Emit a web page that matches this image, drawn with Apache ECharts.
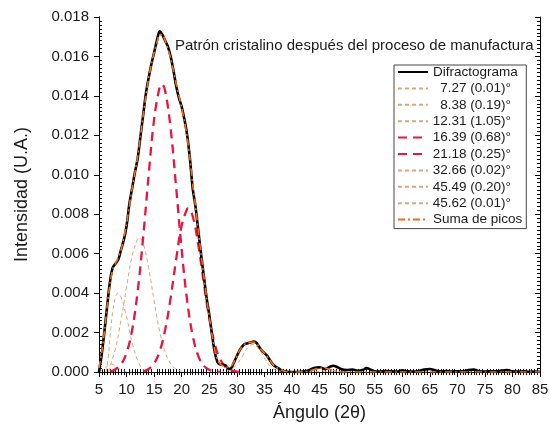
<!DOCTYPE html>
<html>
<head>
<meta charset="utf-8">
<script src="https://cdn.jsdelivr.net/npm/echarts@6/dist/echarts.min.js"></script>
<style>html,body{margin:0;padding:0;background:#fff}#c{width:550px;height:433px}</style>
</head>
<body>
<div id="c"></div>
<script>
// ---- Data ----
var angle = [5,5.5,6,6.5,7,7.5,8,8.5,9,9.5,10,10.5,11,11.5,12,12.5,13,13.5,14,14.5,15,15.5,16,16.5,17,17.5,18,18.5,19,19.5,20,20.5,21,21.5,22,22.5,23,23.5,24,24.5,25,25.5,26,26.5,27,27.5,28,28.5,29,29.5,30,30.5,31,31.5,32,32.5,33,33.5,34,34.5,35,35.5,36,36.5,37,37.5,38,38.5,39,39.5,40,41,42,43,44,45,46,47,47.5,48,49,50,51,52,53,53.5,54,55,56,57,58,59,60,61,62,63,64,65,66,67,68,69,70,71,72,73,74,75,76,77,78,79,80,81,82,83,84,85];
var difractograma = [0,0.0009,0.0021,0.0034,0.0046,0.0053,0.0055,0.0057,0.0062,0.0067,0.0074,0.0085,0.0093,0.0101,0.0108,0.0119,0.0130,0.0141,0.0149,0.0156,0.0162,0.0168,0.01728,0.0171,0.0168,0.0165,0.0160,0.0153,0.0145,0.0139,0.01345,0.0128,0.0120,0.0108,0.0093,0.0084,0.0072,0.0060,0.0049,0.0038,0.0029,0.0019,0.0010,0.0005,0.00038,0.00037,0.00033,0.00015,0.0002,0.0005,0.0008,0.0011,0.0013,0.00142,0.00146,0.0015,0.00154,0.0015,0.0013,0.0011,0.00096,0.00082,0.0006,0.0004,0.00028,0.0002,0.0001,0.00005,0.00002,0,0,0,0.00002,0.00008,0.0002,0.00024,0.00015,0.00028,0.00032,0.00028,0.00014,0.0001,0.00013,0.00006,0.00012,0.0002,0.00016,0.00004,0.00002,0.00005,0.00003,0.00002,0.00008,0.00003,0.00002,0.00005,0.00012,0.00015,0.00008,0.00003,0.00005,0.00002,0.00004,0.00003,0.0001,0.00012,0.00004,0.00002,0.00004,0.00003,0.00007,0.0001,0.00003,0.00002,0.00003,0.00001,0.00002,0];

var sumaAngle = [5,5.5,6,6.5,7,7.5,8,8.5,9,9.5,10,10.5,11,11.5,12,12.5,13,13.5,14,14.5,15,15.5,16,16.5,17,17.5,18,18.5,19,19.5,20,20.5,21,21.5,22,22.5,23,23.5,24,24.5,25,25.5,26,26.5,27,27.5,28,28.5,29,29.5,30,30.5,31,31.5,32,32.5,33,33.5,34,34.5,35,35.5,36,36.5,37,37.5,38,38.5,39,40,41,42,43,44,45,46,47,48,49,50,55,60,65,70,75,80,85];
var suma = [0.0002,0.0010,0.0021,0.0034,0.0045,0.0052,0.0055,0.0058,0.0062,0.0068,0.0075,0.0084,0.0093,0.0101,0.0109,0.0119,0.0130,0.0140,0.0149,0.0156,0.0162,0.0167,0.0171,0.0171,0.0168,0.0164,0.0159,0.0153,0.0146,0.0140,0.0134,0.0127,0.0119,0.0108,0.0095,0.0084,0.0072,0.0060,0.0049,0.0038,0.0028,0.0019,0.0011,0.0006,0.0004,0.00032,0.00026,0.00025,0.0003,0.00052,0.0008,0.0011,0.0013,0.00142,0.00147,0.0015,0.00152,0.00148,0.0013,0.0011,0.00095,0.0008,0.0006,0.0004,0.00028,0.00018,0.0001,0.00005,0.00002,0,0,0.00001,0.00005,0.00012,0.00019,0.00019,0.00012,0.00005,0.00001,0,0,0,0,0,0,0,0];

var pico727 = [[5,0.00003],[6,0.00018],[7,0.00039],[7.27,0.0004],[8,0.00032],[9,0.00011],[10,0.00002],[11,0]];
var pico838 = [[6.3,0],[6.7,0.0008],[7,0.0018],[7.5,0.0031],[8,0.0038],[8.4,0.0040],[9,0.0038],[10,0.0028],[11,0.0015],[12,0.0006],[13,0.00012],[14,0]];
var pico1231 = [[6.7,0],[7,0.0003],[8,0.0012],[9,0.00264],[10,0.0043],[11,0.00587],[12,0.00675],[12.3,0.0068],[13,0.00652],[14,0.00529],[15,0.00361],[16,0.00207],[17,0.0010],[18,0.00041],[19,0.00014],[20,0.00004],[21,0]];
var pico1639 = [[7,0.00002],[8,0.00014],[9,0.00039],[10,0.00097],[11,0.00212],[12,0.00406],[13,0.0068],[14,0.00997],[15,0.01282],[16,0.01445],[16.4,0.0146],[17,0.01425],[18,0.01233],[19,0.00934],[20,0.0062],[21,0.0036],[22,0.00184],[23,0.00082],[24,0.00032],[25,0.00011],[26,0.00003],[27,0]];
var pico2118 = [[13,0.00003],[14,0.00015],[15,0.00043],[16,0.00104],[17,0.00214],[18,0.00377],[19,0.00572],[20,0.00743],[21,0.00828],[21.2,0.0083],[22,0.0079],[23,0.00647],[24,0.00454],[25,0.00273],[26,0.00141],[27,0.00063],[28,0.00024],[29,0.00008],[30,0.00002],[31,0]];
var pico3266 = [[27,0],[28,0.00003],[29,0.00013],[30,0.00038],[31,0.0008],[32,0.00124],[32.9,0.0014],[34,0.00116],[35,0.00071],[36,0.00032],[37,0.0001],[38,0.00002],[39,0]];
var pico4549 = [[41,0],[42,0.00001],[43,0.00005],[44,0.00011],[45,0.00017],[45.5,0.00018],[46,0.00017],[47,0.00011],[48,0.00005],[49,0.00001],[50,0]];
var pico4562 = [[43,0],[44,0.00001],[45,0.00004],[45.6,0.00005],[46.2,0.00004],[47,0.00001],[48,0]];

var xTicks = {min: 5, max: 85, interval: 5};
var yTicks = {min: 0, max: 0.018, interval: 0.002};
var names = ['Difractograma','7.27 (0.01)°','8.38 (0.19)°','12.31 (1.05)°','16.39 (0.68)°','21.18 (0.25)°','32.66 (0.02)°','45.49 (0.20)°','45.62 (0.01)°','Suma de picos'];
var titleText = 'Patrón cristalino después del proceso de manufactura';

// ---- Chart ----
var FONT = "'Liberation Sans', Arial, sans-serif";
function zip(xs, ys){ return xs.map(function(x,i){ return [x, ys[i]]; }); }

var chart = echarts.init(document.getElementById('c'), null, {renderer:'canvas'});
var axisLine = {show:true, lineStyle:{color:'#000', width:1}};
function xAx(pos, opts){
  return Object.assign({type:'value', position:pos, min:xTicks.min, max:xTicks.max, interval:xTicks.interval,
    axisLine:axisLine, splitLine:{show:false}, axisLabel:{show:false}}, opts);
}
function yAx(pos, opts){
  return Object.assign({type:'value', position:pos, min:yTicks.min, max:yTicks.max, interval:yTicks.interval,
    axisLine:axisLine, splitLine:{show:false}, axisLabel:{show:false}}, opts);
}
var thin = '#dca57c';
var red = '#e8163e';
function comp(name, data, color, width, dash){
  return {name:name, type:'line', data:data, smooth:0.4, showSymbol:false, symbol:'none', z:2,
    lineStyle:{color:color, width:width, type:dash}, itemStyle:{color:color}};
}
var txt = {fontFamily:FONT, fontSize:13.5, color:'#1a1a1a', lineHeight:14};

chart.setOption({
  animation:false,
  backgroundColor:'#fff',
  grid:{left:99, right:10, top:17, bottom:61, outerBoundsMode:'none'},
  title:{text:titleText, left:170, top:33, textStyle:{fontFamily:FONT, fontSize:15, fontWeight:'normal', color:'#1a1a1a'}},
  xAxis:[
    xAx('bottom',{name:'Ángulo (2θ)', nameLocation:'middle', nameGap:32,
      nameTextStyle:{fontFamily:FONT, fontSize:18, color:'#1a1a1a'},
      axisTick:{show:true, inside:false, length:5, lineStyle:{color:'#000'}},
      axisLabel:{show:true, margin:10, fontFamily:FONT, fontSize:15, color:'#1a1a1a'}}),
    xAx('bottom',{axisTick:{show:false, inside:true}, minorTick:{show:true, splitNumber:10, length:3, lineStyle:{color:'#000'}}}),
    xAx('top',{axisTick:{show:true, inside:true, length:5, lineStyle:{color:'#000'}}, minorTick:{show:true, splitNumber:10, length:3, lineStyle:{color:'#000'}}})
  ],
  yAxis:[
    yAx('left',{name:'Intensidad (U.A.)', nameLocation:'middle', nameGap:68, nameRotate:90,
      nameTextStyle:{fontFamily:FONT, fontSize:18, color:'#1a1a1a'},
      axisTick:{show:true, inside:false, length:5, lineStyle:{color:'#000'}},
      axisLabel:{show:true, margin:10, fontFamily:FONT, fontSize:15, color:'#1a1a1a', formatter:function(v){return v.toFixed(3);}}}),
    yAx('left',{axisTick:{show:false, inside:true}, minorTick:{show:true, splitNumber:10, length:3, lineStyle:{color:'#000'}}}),
    yAx('right',{axisTick:{show:true, inside:true, length:5, lineStyle:{color:'#000'}}, minorTick:{show:true, splitNumber:10, length:3, lineStyle:{color:'#000'}}})
  ],
  legend:{
    data:names, orient:'vertical', left:394, top:65, padding:[0,4,2,3], itemGap:2.4,
    itemWidth:30, itemHeight:14, backgroundColor:'#fff', borderColor:'#444', borderWidth:1, borderRadius:0,
    itemStyle:{opacity:0, borderWidth:0},
    textStyle:Object.assign({}, txt, {rich:{r:Object.assign({width:78, align:'right'}, txt), l:Object.assign({}, txt)}}),
    formatter:function(n){ return (n==='Difractograma'||n==='Suma de picos') ? '{l|'+n+'}' : '{r|'+n+'}'; }
  },
  series:[
    {name:names[0], type:'line', data:zip(angle, difractograma), smooth:0.3, showSymbol:false, symbol:'none', z:3,
      lineStyle:{color:'#000', width:2.6}, itemStyle:{color:'#000'}},
    comp(names[1], pico727, thin, 1, [4,3]),
    comp(names[2], pico838, thin, 1, [4,3]),
    comp(names[3], pico1231, thin, 1, [4,3]),
    comp(names[4], pico1639, red, 2.3, [9,6]),
    comp(names[5], pico2118, red, 2.3, [9,6]),
    comp(names[6], pico3266, thin, 1, [4,3]),
    comp(names[7], pico4549, thin, 1, [4,3]),
    comp(names[8], pico4562, thin, 1, [4,3]),
    {name:names[9], type:'line', data:zip(sumaAngle, suma), smooth:0.3, showSymbol:false, symbol:'none', z:4,
      lineStyle:{color:'#ff6a10', width:1.6, type:[7,3,2,3]}, itemStyle:{color:'#ff6a10'}}
  ]
});
</script>
</body>
</html>
